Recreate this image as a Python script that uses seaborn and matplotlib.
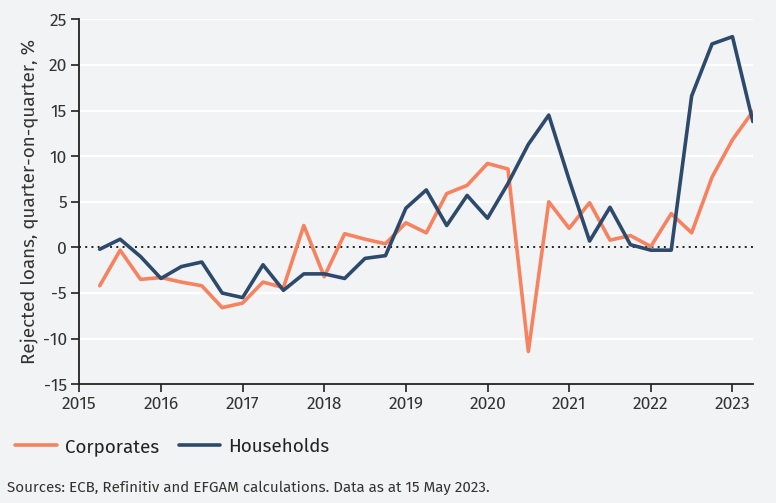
import numpy as np
import pandas as pd
import matplotlib
matplotlib.use("Agg")
import matplotlib.pyplot as plt
import seaborn as sns

# quarterly observations, 2015 Q2 .. 2023 Q2 (decimal year of quarter start)
quarters = [2015.25, 2015.5, 2015.75,
            2016.0, 2016.25, 2016.5, 2016.75,
            2017.0, 2017.25, 2017.5, 2017.75,
            2018.0, 2018.25, 2018.5, 2018.75,
            2019.0, 2019.25, 2019.5, 2019.75,
            2020.0, 2020.25, 2020.5, 2020.75,
            2021.0, 2021.25, 2021.5, 2021.75,
            2022.0, 2022.25, 2022.5, 2022.75,
            2023.0, 2023.25]

corporates = [-4.2, -0.3, -3.5,
              -3.3, -3.8, -4.2, -6.6,
              -6.1, -3.8, -4.4, 2.4,
              -3.2, 1.5, 0.9, 0.4,
              2.7, 1.6, 5.9, 6.8,
              9.2, 8.6, -11.4, 5.0,
              2.1, 4.9, 0.8, 1.3,
              0.1, 3.7, 1.6, 7.7,
              11.8, 14.9]

households = [-0.2, 0.9, -1.0,
              -3.4, -2.1, -1.6, -5.0,
              -5.5, -1.9, -4.7, -2.9,
              -2.9, -3.4, -1.2, -0.9,
              4.3, 6.3, 2.4, 5.7,
              3.2, 7.0, 11.3, 14.5,
              7.4, 0.7, 4.4, 0.3,
              -0.3, -0.3, 16.6, 22.3,
              23.1, 13.8]

year_ticks = list(range(2015, 2024))
y_ticks = [-15, -10, -5, 0, 5, 10, 15, 20, 25]

series_names = ["Corporates", "Households"]
palette = {"Corporates": "#F7825F", "Households": "#2D4A6C"}

df = pd.DataFrame({
    "quarter": quarters * 2,
    "value": corporates + households,
    "series": ["Corporates"] * len(quarters) + ["Households"] * len(quarters),
})

bg = "#F2F3F5"
sns.set_theme(style="white")
plt.rcParams["font.family"] = ["Fira Sans", "Noto Sans", "DejaVu Sans"]

fig = plt.figure(figsize=(7.76, 5.03), dpi=100, facecolor=bg)
ax = fig.add_axes([0.1022, 0.236, 0.868, 0.7256])
ax.set_facecolor(bg)

for yv in y_ticks:
    if yv != 0:
        ax.axhline(yv, color="white", lw=1.6, zorder=0)
ax.axhline(0, color="#222222", lw=1.4, ls=(0, (1, 2.2)), zorder=1)

sns.lineplot(data=df, x="quarter", y="value", hue="series", hue_order=series_names,
             palette=palette, lw=2.6, ax=ax, legend=False, zorder=3)

ax.set_xlim(2015, 2023.25)
ax.set_ylim(-15, 25)
ax.set_xticks(year_ticks)
ax.set_xticklabels([str(y) for y in year_ticks])
ax.set_yticks(y_ticks)
ax.set_yticklabels([str(v) for v in y_ticks])
ax.tick_params(axis="both", direction="out", length=6, width=1.2, color="#222222",
               labelsize=12.5, labelcolor="#333333", pad=3, left=True, bottom=True)
ax.set_xlabel("")
ax.set_ylabel("Rejected loans, quarter-on-quarter, %", fontsize=13.5, color="#333333", labelpad=3)
for side in ["top", "right"]:
    ax.spines[side].set_visible(False)
for side in ["left", "bottom"]:
    ax.spines[side].set_color("#222222")
    ax.spines[side].set_linewidth(1.3)

handles = [plt.Line2D([], [], color=palette[s], lw=2.6) for s in series_names]
fig.legend(handles, series_names, loc="center left", bbox_to_anchor=(-0.002, 0.112),
           ncol=2, frameon=False, fontsize=13.5, handlelength=2.2, handletextpad=0.45,
           columnspacing=1.05, labelcolor="#222222")

fig.text(0.009, 0.031, "Sources: ECB, Refinitiv and EFGAM calculations. Data as at 15 May 2023.",
         fontsize=10.9, color="#333333", ha="left", va="center")

fig.savefig("out.png", dpi=100, facecolor=bg)
